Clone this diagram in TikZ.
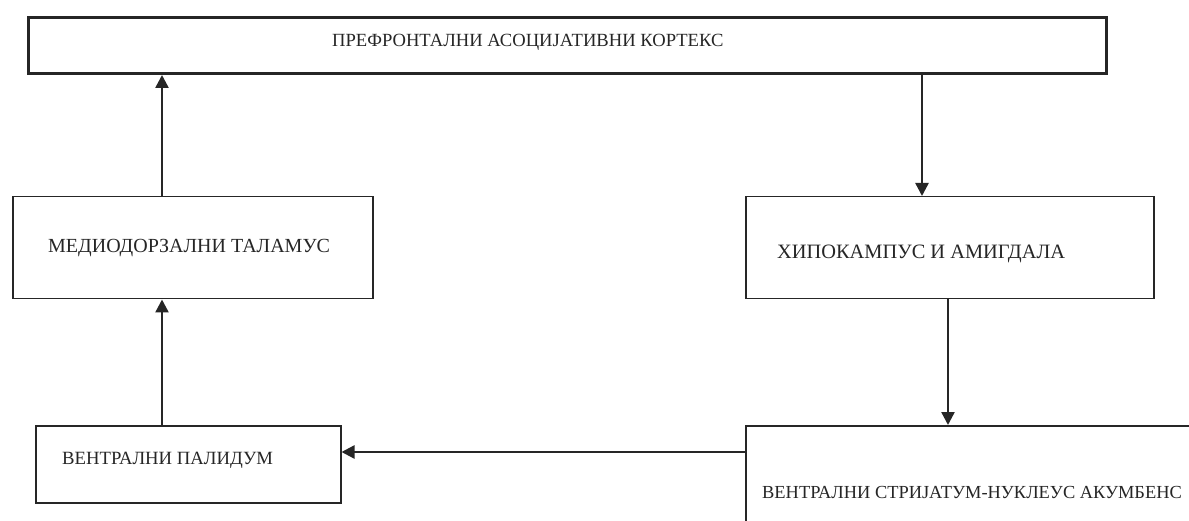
\documentclass[tikz,border=0pt]{standalone}
\usepackage{fontspec}
\setmainfont{Liberation Serif}
\usetikzlibrary{arrows.meta}
\definecolor{ink}{HTML}{262626}
\tikzset{
  box/.style={draw=ink, line width=1.5pt, fill=white, minimum width=#1, inner sep=0pt},
  lbl/.style={anchor=west, inner sep=0pt, text=ink, font=\fontsize{#1}{#1}\selectfont},
  conn/.style={draw=ink, line width=2.4pt, -{Triangle[length=13pt,width=13pt]}},
}
\begin{document}
\begin{tikzpicture}[x=1pt,y=-1pt]
\useasboundingbox (0,0) rectangle (1189,521);
\clip (0,0) rectangle (1189,521);
% boxes
\node[draw=ink, line width=3pt, minimum width=1078pt, minimum height=56pt, inner sep=0pt, anchor=north west] (pfc) at (27,16) {};
\node[box=360pt, minimum height=102pt, anchor=north west] (md) at (12,196) {};
\node[box=305pt, minimum height=77pt, anchor=north west] (vp) at (35,425) {};
\node[box=408pt, minimum height=102pt, anchor=north west] (hip) at (745,196) {};
\node[box=460pt, minimum height=110pt, anchor=north west] (vs) at (745,425) {};
% labels
\node[lbl=18.6] (tpfc) at (332,42) {ПРЕФРОНТАЛНИ АСОЦИЈАТИВНИ КОРТЕКС};
\node[lbl=20] (tmd) at (48,248) {МЕДИОДОРЗАЛНИ ТАЛАМУС};
\node[lbl=18.7] (tvp) at (62,460) {ВЕНТРАЛНИ ПАЛИДУМ};
\node[lbl=20.4] (thip) at (777,254) {ХИПОКАМПУС И АМИГДАЛА};
\node[lbl=18.4] (tvs) at (762,492) {ВЕНТРАЛНИ СТРИЈАТУМ-НУКЛЕУС АКУМБЕНС};
% connectors
\coordinate (a1s) at (md.north -| 162,0);
\coordinate (a1e) at (pfc.south -| 162,0);
\draw[conn] (a1s) -- (a1e);
\coordinate (a2s) at (vp.north -| 162,0);
\coordinate (a2e) at (md.south -| 162,0);
\draw[conn] (a2s) -- (a2e);
\coordinate (a3s) at (pfc.south -| 922,0);
\coordinate (a3e) at (hip.north -| 922,0);
\draw[conn] (a3s) -- (a3e);
\coordinate (a4s) at (hip.south -| 948,0);
\coordinate (a4e) at (vs.north -| 948,0);
\draw[conn] (a4s) -- (a4e);
\coordinate (a5s) at (vs.west |- 0,452);
\coordinate (a5e) at (vp.east |- 0,452);
\draw[conn] (a5s) -- (a5e);
\end{tikzpicture}
\end{document}
